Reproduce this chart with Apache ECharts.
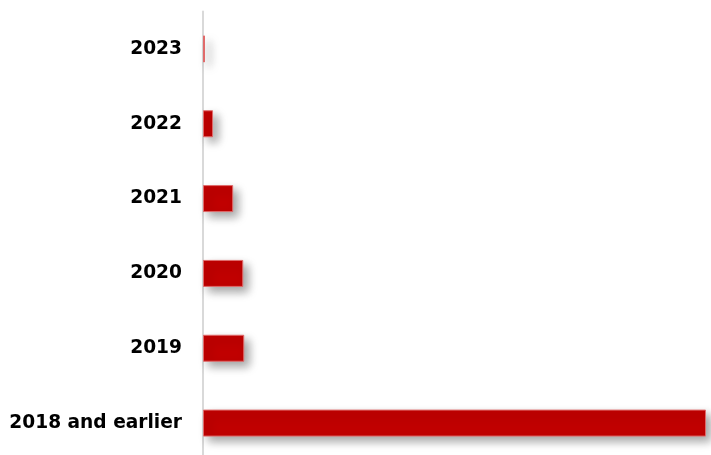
<!DOCTYPE html>
<html>
<head>
<meta charset="utf-8">
<script src="https://cdn.jsdelivr.net/npm/echarts@6/dist/echarts.min.js"></script>
<style>
  html, body { margin: 0; padding: 0; background: #fff; }
  #chart { width: 711px; height: 455px; }
</style>
</head>
<body>
<div id="chart"></div>
<script>
// Categories listed bottom to top
const categories = ['2018 and earlier', '2019', '2020', '2021', '2022', '2023'];
const values = [100, 8.2, 8.0, 6.0, 2.0, 0.4];

const chart = echarts.init(document.getElementById('chart'), null, { renderer: 'canvas' });

chart.setOption({
  animation: false,
  grid: { left: 203, width: 503, top: 11.5, height: 449, outerBoundsMode: 'none' },
  xAxis: {
    type: 'value',
    min: 0,
    max: 100,
    show: false
  },
  yAxis: {
    type: 'category',
    data: categories,
    axisLine: { show: true, lineStyle: { color: '#d9d9d9', width: 2 } },
    axisTick: { show: false },
    splitLine: { show: false },
    axisLabel: {
      margin: 21,
      color: '#000',
      fontFamily: 'DejaVu Sans',
      fontWeight: 'bold',
      fontSize: 18.6
    }
  },
  series: [{
    type: 'bar',
    data: values,
    barWidth: 27,
    itemStyle: {
      color: '#c00000',
      borderColor: '#e06a6a',
      borderWidth: 1,
      shadowColor: 'rgba(0,0,0,0.36)',
      shadowBlur: 10,
      shadowOffsetX: 5,
      shadowOffsetY: 5
    }
  }]
});
</script>
</body>
</html>
